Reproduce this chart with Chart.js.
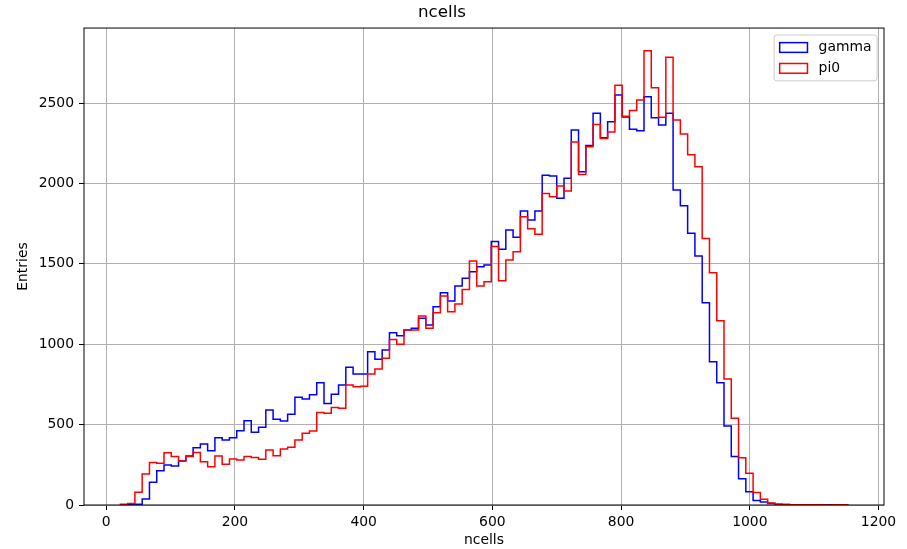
<!DOCTYPE html>
<html>
<head>
<meta charset="utf-8">
<title>ncells</title>
<script src="https://cdn.jsdelivr.net/npm/chart.js@4.4.1/dist/chart.umd.min.js"></script>
<style>
  body { margin: 0; background: #fff; }
  #ncells { display: block; }
</style>
</head>
<body>
<canvas id="ncells" width="907" height="549"></canvas>
<script>
// 100 equal-width bins between the lowest and highest ncells value
const binLow = 22;
const binHigh = 1152;

const seriesNames = ['gamma', 'pi0'];
const seriesColors = ['#0000ff', '#ff0000'];

const gammaCounts = [
    0, 2, 4, 37, 141, 213, 249, 243, 274, 305,
    356, 379, 338, 419, 404, 419, 462, 524, 452, 483,
    591, 533, 522, 564, 670, 659, 686, 761, 632, 688,
    746, 856, 815, 815, 953, 906, 964, 1072, 1053, 1088,
    1099, 1161, 1119, 1233, 1320, 1269, 1362, 1410, 1451, 1482,
    1493, 1638, 1590, 1710, 1665, 1828, 1772, 1828, 2050, 2046,
    1907, 2032, 2332, 2073, 2235, 2436, 2284, 2384, 2550, 2413,
    2337, 2328, 2539, 2409, 2363, 2436, 1959, 1861, 1690, 1549,
    1258, 891, 761, 491, 301, 164, 83, 28, 19, 10,
    4, 3, 2, 1, 1, 1, 0, 1, 0, 1
];

const pi0Counts = [
    5, 10, 79, 193, 265, 259, 325, 301, 274, 301,
    327, 269, 238, 305, 253, 286, 280, 301, 296, 284,
    342, 307, 348, 359, 404, 446, 460, 576, 570, 607,
    601, 746, 736, 738, 815, 846, 912, 1030, 999, 1088,
    1088, 1175, 1099, 1196, 1300, 1202, 1250, 1340, 1517, 1362,
    1389, 1607, 1395, 1524, 1575, 1793, 1718, 1684, 1938, 1917,
    1984, 1953, 2258, 2056, 2228, 2367, 2280, 2320, 2610, 2417,
    2454, 2519, 2825, 2595, 2411, 2784, 2394, 2308, 2179, 2104,
    1658, 1445, 1146, 784, 539, 294, 197, 77, 35, 12,
    5, 3, 2, 1, 1, 1, 1, 0, 1, 1
];

const xTicks = [0, 200, 400, 600, 800, 1000, 1200];
const yTicks = [0, 500, 1000, 1500, 2000, 2500];

// outline of a step histogram: rise at the first edge, drop at the last one
function stepPoints(counts) {
    const width = (binHigh - binLow) / counts.length;
    const pts = [{ x: binLow, y: 0 }];
    counts.forEach((c, i) => pts.push({ x: binLow + i * width, y: c }));
    pts.push({ x: binHigh, y: 0 });
    return pts;
}

const FS = 13.9;
Chart.defaults.font.family = "'DejaVu Sans', sans-serif";
Chart.defaults.color = '#000';

const span = binHigh - binLow;
const yTop = Math.max(...gammaCounts, ...pi0Counts) * 1.05;

// axes frame drawn over the lines
const frame = {
    id: 'frame',
    afterDatasetsDraw(chart) {
        const { ctx, chartArea: a } = chart;
        ctx.save();
        ctx.strokeStyle = '#000';
        ctx.lineWidth = 1;
        ctx.strokeRect(a.left, a.top, a.right - a.left, a.bottom - a.top);
        ctx.restore();
    }
};

// boxed legend in the upper right corner of the plot
const legendBox = {
    id: 'legendBox',
    afterDraw(chart) {
        const { ctx, chartArea } = chart;
        const sets = chart.data.datasets;
        ctx.save();
        ctx.font = FS + "px 'DejaVu Sans'";
        const textW = Math.max(...sets.map(d => ctx.measureText(d.label).width));
        const pad = 0.4 * FS, handleW = 2 * FS, handleH = 0.7 * FS, gap = 0.8 * FS, rowGap = 0.5 * FS;
        const w = pad * 2 + handleW + gap + textW;
        const h = pad * 2 + sets.length * FS + (sets.length - 1) * rowGap;
        const right = chartArea.right - 0.5 * FS;
        const top = chartArea.top + 0.5 * FS;
        const left = right - w;

        ctx.beginPath();
        ctx.roundRect(left, top, w, h, 0.2 * FS);
        ctx.fillStyle = 'rgba(255,255,255,0.8)';
        ctx.fill();
        ctx.strokeStyle = '#cccccc';
        ctx.lineWidth = 1;
        ctx.stroke();

        sets.forEach((d, i) => {
            const cy = top + pad + FS / 2 + i * (FS + rowGap);
            ctx.strokeStyle = d.borderColor;
            ctx.lineWidth = 1.5;
            ctx.strokeRect(left + pad, cy - handleH / 2, handleW, handleH);
            ctx.fillStyle = '#000';
            ctx.textAlign = 'left';
            ctx.textBaseline = 'middle';
            ctx.fillText(d.label, left + pad + handleW + gap, cy);
        });
        ctx.restore();
    }
};

const gridOpts = {
    color: '#b0b0b0',
    lineWidth: 1,
    tickColor: '#000',
    tickLength: 5,
    tickWidth: 1
};

new Chart(document.getElementById('ncells'), {
    type: 'line',
    data: {
        datasets: [
            {
                label: seriesNames[0],
                data: stepPoints(gammaCounts),
                borderColor: seriesColors[0],
                order: 1
            },
            {
                label: seriesNames[1],
                data: stepPoints(pi0Counts),
                borderColor: seriesColors[1],
                order: 0
            }
        ]
    },
    options: {
        responsive: false,
        animation: false,
        devicePixelRatio: 1,
        layout: { padding: { left: 0, right: 23, top: 0, bottom: 0 } },
        elements: {
            line: { borderWidth: 1.5, stepped: true, fill: false, tension: 0 },
            point: { radius: 0, hoverRadius: 0 }
        },
        plugins: {
            legend: { display: false },
            tooltip: { enabled: false },
            title: {
                display: true,
                text: 'ncells',
                color: '#000',
                font: { size: 16.7, weight: 'normal' },
                padding: { top: 3, bottom: 5 }
            }
        },
        scales: {
            x: {
                type: 'linear',
                min: binLow - 0.05 * span,
                max: binHigh + 0.05 * span,
                afterBuildTicks: axis => { axis.ticks = xTicks.map(v => ({ value: v })); },
                afterFit: axis => { axis.height = 44; },
                grid: gridOpts,
                border: { display: false },
                ticks: {
                    color: '#000',
                    font: { size: FS },
                    padding: 4,
                    maxRotation: 0,
                    autoSkip: false,
                    callback: v => String(v)
                },
                title: {
                    display: true,
                    text: 'ncells',
                    color: '#000',
                    font: { size: FS },
                    padding: { top: 0, bottom: 0 }
                }
            },
            y: {
                type: 'linear',
                min: 0,
                max: yTop,
                afterBuildTicks: axis => { axis.ticks = yTicks.map(v => ({ value: v })); },
                afterFit: axis => { axis.width = 84; },
                grid: gridOpts,
                border: { display: false },
                ticks: {
                    color: '#000',
                    font: { size: FS },
                    padding: 5,
                    autoSkip: false,
                    callback: v => String(v)
                },
                title: {
                    display: true,
                    text: 'Entries',
                    color: '#000',
                    font: { size: FS },
                    padding: { top: 15, bottom: 0 }
                }
            }
        }
    },
    plugins: [frame, legendBox]
});
</script>
</body>
</html>
